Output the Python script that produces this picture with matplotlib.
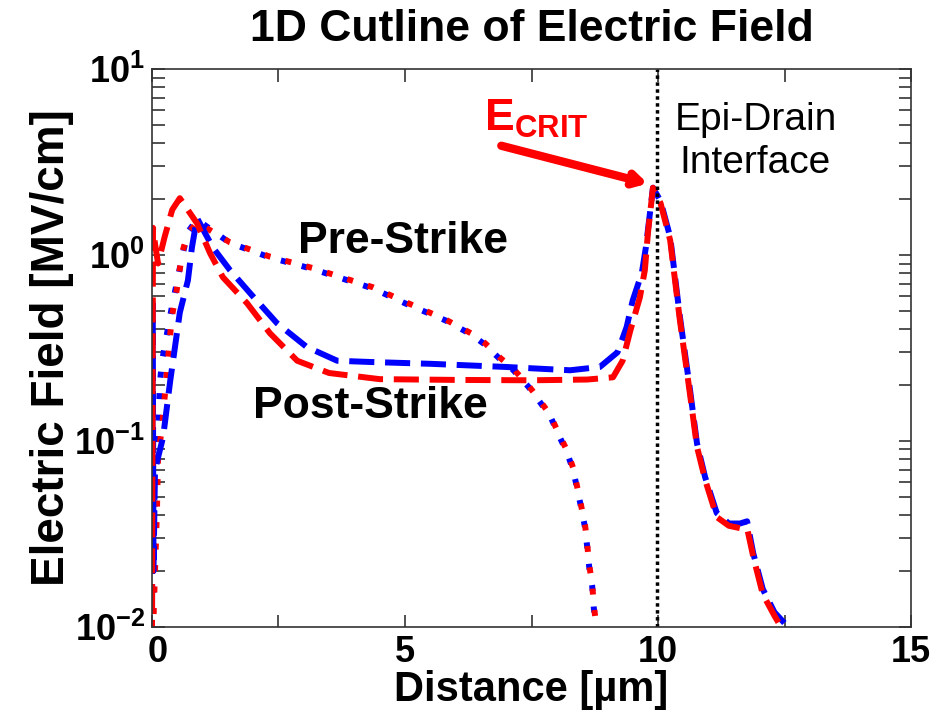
import numpy as np
import matplotlib
matplotlib.use('Agg')
import matplotlib.pyplot as plt
import matplotlib.transforms as mtransforms
from matplotlib.ticker import FixedLocator, NullFormatter, LogLocator

plt.rcParams['font.family'] = ['Liberation Sans', 'DejaVu Sans']
plt.rcParams['mathtext.fontset'] = 'custom'
plt.rcParams['mathtext.rm'] = 'Liberation Sans'
plt.rcParams['mathtext.bf'] = 'Liberation Sans:bold'

# post-strike (dashed)
post_red_x = [0.0, 0.02, 0.06, 0.12, 0.25, 0.4, 0.55, 0.89, 1.15, 1.4, 1.88, 2.33, 2.87, 3.5,
              4.5, 6.0, 7.5, 8.6, 9.11, 9.3, 9.45, 9.64, 9.74, 9.8, 9.9,
              10.05, 10.24, 10.43, 10.63, 10.77, 10.93, 11.16, 11.4, 11.62, 11.76, 11.88, 12.07, 12.3, 12.45]
post_red_y = [0.008, 1.4, 1.15, 0.9, 1.25, 1.75, 2.02, 1.48, 1.02, 0.76, 0.55, 0.38, 0.27, 0.232,
              0.215, 0.213, 0.212, 0.214, 0.22, 0.27, 0.39, 0.59, 0.83, 1.31, 2.3,
              1.9, 1.2, 0.45, 0.18, 0.093, 0.062, 0.039, 0.035, 0.034, 0.034, 0.024, 0.015, 0.0115, 0.0098]
post_blue_x = [0.0, 0.015, 0.03, 0.06, 0.22, 0.36, 0.55, 0.71, 0.79, 0.89, 1.2, 1.54, 1.97, 2.47, 3.06, 3.66,
               4.3, 5.5, 7.0, 8.26, 8.85, 9.2, 9.38, 9.5, 9.68, 9.76, 9.9,
               10.05, 10.24, 10.43, 10.63, 10.77, 10.93, 11.16, 11.4, 11.62, 11.76, 11.88, 12.07, 12.3, 12.6]
post_blue_y = [0.008, 0.55, 0.02, 0.07, 0.105, 0.21, 0.49, 0.73, 1.1, 1.58, 1.1, 0.83, 0.61, 0.43, 0.32, 0.27,
               0.266, 0.26, 0.25, 0.24, 0.25, 0.30, 0.41, 0.57, 0.8, 1.1, 2.3,
               1.95, 1.25, 0.47, 0.19, 0.097, 0.064, 0.041, 0.036, 0.036, 0.037, 0.025, 0.016, 0.012, 0.0098]

# pre-strike (dotted)
pre_red_x = [0.02, 0.1, 0.12, 0.2, 0.39, 0.49, 0.6, 0.71, 0.89, 1.54, 2.33, 3.18, 4.37, 5.0, 5.8, 6.3,
             6.58, 6.88, 7.13, 7.43, 7.63, 7.87, 8.02, 8.2, 8.32, 8.4, 8.48, 8.56, 8.6, 8.64, 8.7, 8.73, 8.79]
pre_red_y = [0.009, 0.044, 0.082, 0.12, 0.46, 0.65, 1.04, 1.3, 1.5, 1.17, 0.98, 0.85, 0.67, 0.56, 0.45, 0.38,
             0.336, 0.28, 0.246, 0.2, 0.17, 0.138, 0.112, 0.089, 0.072, 0.057, 0.045, 0.035, 0.028, 0.0215, 0.017, 0.013, 0.0098]
pre_blue_x = [0.01, 0.06, 0.16, 0.2, 0.39, 0.61, 0.71, 0.89, 1.54, 2.33, 3.18, 4.37, 5.0, 5.8, 6.3,
              6.58, 6.88, 7.13, 7.43, 7.63, 7.87, 8.02, 8.2, 8.32, 8.4, 8.48, 8.56, 8.6, 8.64, 8.7, 8.73, 8.79]
pre_blue_y = [0.009, 0.05, 0.21, 0.27, 0.52, 1.02, 1.33, 1.55, 1.16, 0.97, 0.84, 0.66, 0.55, 0.445, 0.375,
              0.33, 0.275, 0.242, 0.197, 0.167, 0.136, 0.11, 0.087, 0.07, 0.056, 0.044, 0.034, 0.027, 0.021, 0.0165, 0.0127, 0.0096]

interface_x = 9.98

fig = plt.figure(figsize=(9.51, 7.15), dpi=100)
ax = fig.add_axes([0.1598, 0.1231, 0.7982, 0.7804])

ax.plot(pre_blue_x, pre_blue_y, color='#0000ff', lw=4.3, dashes=(1, 2.6))
ax.plot(pre_red_x, pre_red_y, color='#ff0000', lw=4.3, dashes=(1, 2.6))
ax.plot(post_blue_x, post_blue_y, color='#0000ff', lw=4.3, dashes=(4.2, 1.8))
ax.plot(post_red_x, post_red_y, color='#ff0000', lw=4.3, dashes=(4.2, 1.8))
ax.axvline(interface_x, color='black', lw=2.5, dashes=(1, 1))

ax.set_yscale('log')
ax.set_xlim(0, 15)
ax.set_ylim(1e-2, 1e1)

ax.xaxis.set_major_locator(FixedLocator([0, 5, 10, 15]))
ax.xaxis.set_minor_locator(FixedLocator([2.5, 7.5, 12.5]))
ax.set_xticklabels(['0', '5', '10', '15'])
ax.yaxis.set_major_locator(FixedLocator([1e-2, 1e-1, 1e0, 1e1]))
ax.yaxis.set_minor_locator(LogLocator(base=10, subs=np.arange(2, 10)))
ax.yaxis.set_minor_formatter(NullFormatter())
ax.set_yticklabels([r'$\mathbf{10^{-2}}$', r'$\mathbf{10^{-1}}$', r'$\mathbf{10^{0}}$', r'$\mathbf{10^{1}}$'])

ax.tick_params(which='both', direction='in', top=True, right=True, width=1.2, color='#333333')
ax.tick_params(which='major', length=9, labelsize=26)
ax.tick_params(axis='x', which='major', pad=6)
ax.tick_params(axis='y', which='major', pad=5)
ax.tick_params(which='minor', length=9)
for lab in ax.get_xticklabels():
    lab.set_fontweight('bold')
# nudge the "0" label right a little so it clears 10^-2 like in the original
shift = mtransforms.ScaledTranslation(4 / 72, 0, fig.dpi_scale_trans)
ax.get_xticklabels()[0].set_transform(ax.get_xticklabels()[0].get_transform() + shift)
for s in ax.spines.values():
    s.set_linewidth(1.2)
    s.set_color('#333333')

ax.set_title('1D Cutline of Electric Field', fontsize=32, fontweight='bold', pad=20)
ax.set_xlabel('Distance [µm]', fontsize=30, fontweight='bold', labelpad=0)
ax.set_ylabel('Electric Field [MV/cm]', fontsize=33, fontweight='bold', labelpad=0)

ax.text(0.192, 0.69, 'Pre-Strike', transform=ax.transAxes, fontsize=32, fontweight='bold', ha='left', va='center')
ax.text(0.133, 0.395, 'Post-Strike', transform=ax.transAxes, fontsize=32, fontweight='bold', ha='left', va='center')
ax.text(0.795, 0.87, 'Epi-Drain\nInterface', transform=ax.transAxes, fontsize=28, ha='center', va='center',
        linespacing=1.25)
ax.text(0.438, 0.91, r'$\mathbf{E_{CRIT}}$', transform=ax.transAxes, fontsize=32, color='#ff0000',
        ha='left', va='center')
ax.annotate('', xy=(9.85, 2.4), xytext=(6.85, 3.9),
            arrowprops=dict(arrowstyle='->,head_length=0.7,head_width=0.4', color='#ff0000', lw=6))

fig.savefig('out.png', dpi=100)
